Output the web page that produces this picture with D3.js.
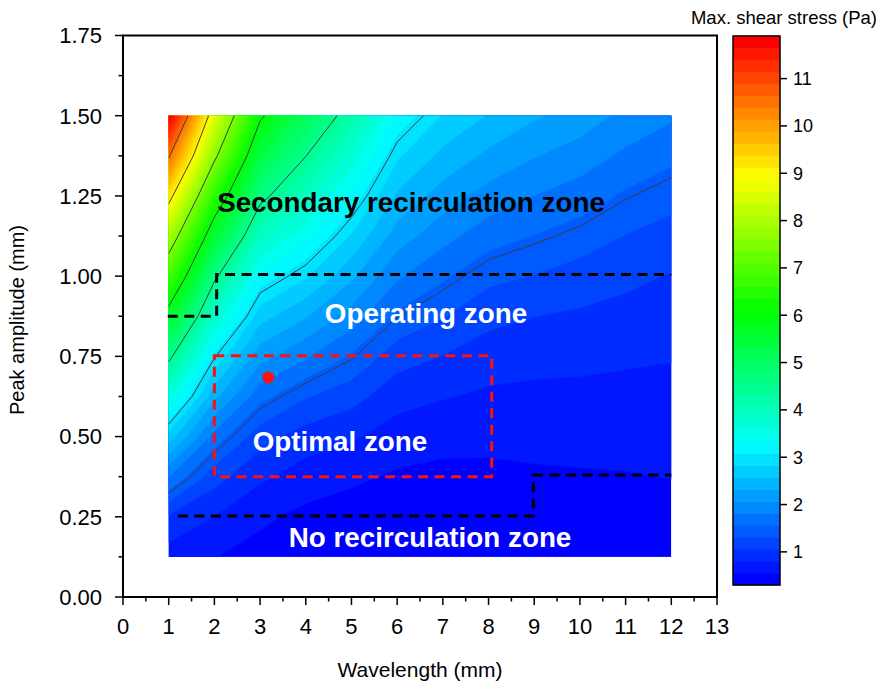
<!DOCTYPE html>
<html>
<head>
<meta charset="utf-8">
<script src="https://cdn.jsdelivr.net/npm/d3@7"></script>
<style>
  body { margin: 0; background: #fff; }
  svg { display: block; font-family: "Liberation Sans", Arial, sans-serif; }
</style>
</head>
<body>
<svg id="chart" width="883" height="686"></svg>
<script>
// Sampling grid: wavelength (mm) by peak amplitude (mm)
const wavelengths = [1, 2, 3, 4, 5, 6, 7, 8, 9, 10, 11, 12];
const amplitudes = [0.125, 0.25, 0.375, 0.5, 0.625, 0.75, 0.875, 1.0, 1.125, 1.25, 1.375, 1.5];

// Max. shear stress (Pa); one list per wavelength, ordered by ascending amplitude
const stressW1  = [0.68, 1.02, 1.82, 2.71, 3.65, 4.63, 5.72, 6.85, 8.01, 9.24, 10.57, 11.90];
const stressW2  = [0.56, 0.80, 1.16, 1.72, 2.38, 3.03, 3.81, 4.61, 5.52, 6.54, 7.65, 8.58];
const stressW3  = [0.46, 0.60, 0.85, 1.16, 1.65, 2.16, 2.67, 3.24, 3.95, 4.65, 5.34, 6.10];
const stressW4  = [0.38, 0.49, 0.68, 0.94, 1.33, 1.84, 2.34, 2.85, 3.39, 3.95, 4.51, 5.11];
const stressW5  = [0.35, 0.43, 0.60, 0.84, 1.15, 1.53, 1.95, 2.37, 2.79, 3.24, 3.73, 4.22];
const stressW6  = [0.33, 0.40, 0.52, 0.68, 0.90, 1.17, 1.51, 1.85, 2.19, 2.53, 2.86, 3.27];
const stressW7  = [0.32, 0.38, 0.49, 0.63, 0.82, 1.05, 1.32, 1.60, 1.90, 2.20, 2.50, 2.80];
const stressW8  = [0.31, 0.38, 0.50, 0.61, 0.76, 0.93, 1.13, 1.38, 1.67, 1.96, 2.26, 2.55];
const stressW9  = [0.30, 0.39, 0.52, 0.62, 0.74, 0.89, 1.06, 1.30, 1.55, 1.81, 2.08, 2.35];
const stressW10 = [0.30, 0.40, 0.53, 0.63, 0.74, 0.87, 1.02, 1.20, 1.44, 1.69, 1.95, 2.20];
const stressW11 = [0.30, 0.41, 0.54, 0.63, 0.73, 0.84, 0.97, 1.12, 1.30, 1.52, 1.76, 2.00];
const stressW12 = [0.30, 0.42, 0.56, 0.64, 0.72, 0.82, 0.92, 1.04, 1.20, 1.40, 1.62, 1.85];
const stressByWavelength = [stressW1, stressW2, stressW3, stressW4, stressW5, stressW6,
                            stressW7, stressW8, stressW9, stressW10, stressW11, stressW12];

// Isolines drawn over the filled map
const contourLevels = [1.5, 3, 4.5, 6, 7.5, 9, 10.5];
// Colour scale
const stressRange = [0.3, 11.9];
const bandCount = 46;
const colorbarTicks = [1, 2, 3, 4, 5, 6, 7, 8, 9, 10, 11];
// Axis ticks
const xTicks = [0, 1, 2, 3, 4, 5, 6, 7, 8, 9, 10, 11, 12, 13];
const yTicks = [0, 0.25, 0.5, 0.75, 1.0, 1.25, 1.5, 1.75];

// Zone boundaries (wavelength, amplitude)
const upperZoneBoundary = [[0.98, 0.875], [2.05, 0.875], [2.05, 1.005], [12, 1.005]];
const lowerZoneBoundary = [[1.2, 0.2525], [8.98, 0.2525], [8.98, 0.38], [12, 0.38]];
const optimalZoneBox = [[2.0, 0.375], [8.07, 0.752]];
const optimalPoint = [3.18, 0.684];

// ---------------------------------------------------------------------------
const svg = d3.select("#chart");
const x = d3.scaleLinear().domain([0, 13]).range([123, 717]);
const y = d3.scaleLinear().domain([0, 1.75]).range([597, 35.5]);

// flatten into row-major grid (rows = amplitudes)
const nx = wavelengths.length, ny = amplitudes.length;
const grid = new Array(nx * ny);
for (let j = 0; j < ny; j++)
  for (let i = 0; i < nx; i++) grid[j * nx + i] = stressByWavelength[i][j];

const dw = wavelengths[1] - wavelengths[0];
const da = amplitudes[1] - amplitudes[0];
const gridProjection = d3.geoTransform({
  point(px, py) {
    this.stream.point(x(wavelengths[0] + (px - 0.5) * dw), y(amplitudes[0] + (py - 0.5) * da));
  }
});
const gridPath = d3.geoPath(gridProjection);

// rainbow colour map: blue -> cyan -> green -> yellow -> red
const cmap = d3.scaleLinear()
  .domain([0, 0.25, 0.5, 0.75, 1])
  .range(["#0000ff", "#00ffff", "#00ff00", "#ffff00", "#ff0000"])
  .interpolate(d3.interpolateRgb);
const step = (stressRange[1] - stressRange[0]) / bandCount;
const thresholds = d3.range(bandCount).map(i => stressRange[0] + i * step);
const bandColor = i => cmap(i / (bandCount - 1));

// clip to the sampled domain
const x0 = x(wavelengths[0]), x1 = x(wavelengths[nx - 1]);
const y0 = y(amplitudes[ny - 1]), y1 = y(amplitudes[0]);
svg.append("clipPath").attr("id", "mapClip")
  .append("rect").attr("x", x0).attr("y", y0).attr("width", x1 - x0).attr("height", y1 - y0);

const map = svg.append("g").attr("clip-path", "url(#mapClip)");
map.append("rect").attr("x", x0).attr("y", y0).attr("width", x1 - x0).attr("height", y1 - y0)
  .attr("fill", bandColor(0));

const bands = d3.contours().size([nx, ny]).thresholds(thresholds.slice(1))(grid);
map.selectAll("path.band").data(bands).join("path")
  .attr("class", "band")
  .attr("d", gridPath)
  .attr("fill", (d, i) => bandColor(i + 1))
  .attr("stroke", (d, i) => bandColor(i + 1))
  .attr("stroke-width", 0.5);

const isolines = d3.contours().size([nx, ny]).thresholds(contourLevels)(grid);
map.selectAll("path.iso").data(isolines).join("path")
  .attr("class", "iso")
  .attr("d", gridPath)
  .attr("fill", "none")
  .attr("stroke", "#3c3c3c")
  .attr("stroke-width", 1);

// zone annotations
const line = d3.line().x(d => x(d[0])).y(d => y(d[1]));
svg.append("path").attr("d", line(upperZoneBoundary))
  .attr("fill", "none").attr("stroke", "#000").attr("stroke-width", 3).attr("stroke-dasharray", "10,6.5");
svg.append("path").attr("d", line(lowerZoneBoundary))
  .attr("fill", "none").attr("stroke", "#000").attr("stroke-width", 3).attr("stroke-dasharray", "10,6.5");
svg.append("rect")
  .attr("x", x(optimalZoneBox[0][0])).attr("y", y(optimalZoneBox[1][1]))
  .attr("width", x(optimalZoneBox[1][0]) - x(optimalZoneBox[0][0]))
  .attr("height", y(optimalZoneBox[0][1]) - y(optimalZoneBox[1][1]))
  .attr("fill", "none").attr("stroke", "#ff1010").attr("stroke-width", 3).attr("stroke-dasharray", "10,6.5");
svg.append("circle").attr("cx", x(optimalPoint[0])).attr("cy", y(optimalPoint[1])).attr("r", 6)
  .attr("fill", "#ff1010");

const zoneText = (txt, cx, cy, color) =>
  svg.append("text").attr("x", cx).attr("y", cy).attr("text-anchor", "middle")
    .attr("font-size", 27.8).attr("font-weight", "bold").attr("fill", color).text(txt);
zoneText("Secondary recirculation zone", 411, 212, "#000");
zoneText("Operating zone", 426, 323, "#fff");
zoneText("Optimal zone", 340, 451, "#fff");
zoneText("No recirculation zone", 430, 547, "#fff");

// frame
svg.append("rect").attr("x", x(0)).attr("y", y(1.75))
  .attr("width", x(13) - x(0)).attr("height", y(0) - y(1.75))
  .attr("fill", "none").attr("stroke", "#000").attr("stroke-width", 2);

// x and y ticks, major and minor
const axisG = svg.append("g").attr("stroke", "#000").attr("stroke-width", 1.5);
xTicks.forEach(v => {
  axisG.append("line").attr("x1", x(v)).attr("x2", x(v)).attr("y1", y(0)).attr("y2", y(0) + 8);
  if (v < 13) axisG.append("line").attr("x1", x(v + 0.5)).attr("x2", x(v + 0.5)).attr("y1", y(0)).attr("y2", y(0) + 4.5);
});
yTicks.forEach(v => {
  axisG.append("line").attr("x1", x(0) - 8).attr("x2", x(0)).attr("y1", y(v)).attr("y2", y(v));
  if (v < 1.75) axisG.append("line").attr("x1", x(0) - 4.5).attr("x2", x(0)).attr("y1", y(v + 0.125)).attr("y2", y(v + 0.125));
});
svg.append("g").selectAll("text").data(xTicks).join("text")
  .attr("x", d => x(d)).attr("y", 634).attr("text-anchor", "middle")
  .attr("font-size", 22).attr("fill", "#000").text(d => d);
svg.append("g").selectAll("text").data(yTicks).join("text")
  .attr("x", 102).attr("y", d => y(d)).attr("dy", "0.36em").attr("text-anchor", "end")
  .attr("font-size", 22).attr("fill", "#000").text(d => d3.format(".2f")(d));

svg.append("text").attr("x", 420).attr("y", 677).attr("text-anchor", "middle")
  .attr("font-size", 21).attr("fill", "#000").text("Wavelength (mm)");
svg.append("text").attr("transform", "translate(24,320) rotate(-90)").attr("text-anchor", "middle")
  .attr("font-size", 20).attr("fill", "#000").text("Peak amplitude (mm)");

// colour bar
const cbX = 733, cbW = 47;
const cy = d3.scaleLinear().domain(stressRange).range([585, 36]);
const cb = svg.append("g");
cb.selectAll("rect.band").data(thresholds).join("rect")
  .attr("class", "band")
  .attr("x", cbX).attr("width", cbW)
  .attr("y", d => cy(d + step) - 0.3)
  .attr("height", d => cy(d) - cy(d + step) + 0.6)
  .attr("fill", (d, i) => bandColor(i));
cb.append("rect").attr("x", cbX).attr("y", cy(stressRange[1])).attr("width", cbW)
  .attr("height", cy(stressRange[0]) - cy(stressRange[1]))
  .attr("fill", "none").attr("stroke", "#000").attr("stroke-width", 1.5);
colorbarTicks.forEach(v => {
  cb.append("line").attr("x1", cbX + cbW).attr("x2", cbX + cbW + 7).attr("y1", cy(v)).attr("y2", cy(v))
    .attr("stroke", "#000").attr("stroke-width", 1.5);
  cb.append("text").attr("x", cbX + cbW + 13).attr("y", cy(v)).attr("dy", "0.36em")
    .attr("font-size", 18).attr("fill", "#000").text(v);
});
svg.append("text").attr("x", 784).attr("y", 24).attr("text-anchor", "middle")
  .attr("font-size", 18.5).attr("fill", "#000").text("Max. shear stress (Pa)");
</script>
</body>
</html>
